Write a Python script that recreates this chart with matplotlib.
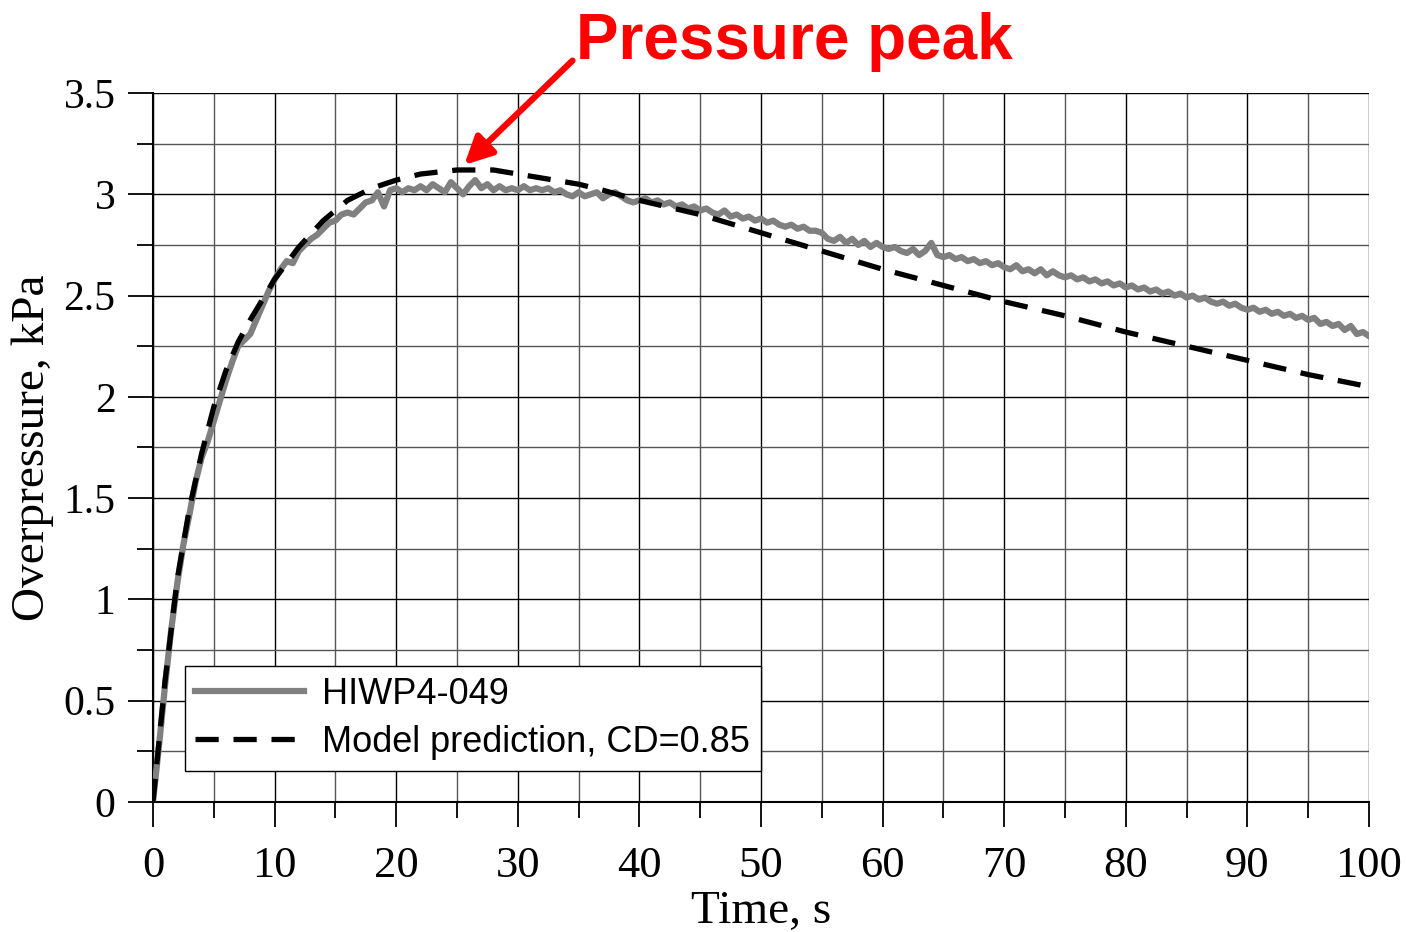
import numpy as np
import matplotlib.pyplot as plt
from matplotlib.ticker import MultipleLocator

# model prediction, CD=0.85
t_model = [0, 0.5, 1, 2, 3, 4, 5, 6, 7, 8, 9, 10, 12, 14, 16, 18, 20, 22, 25, 28,
           30, 33, 35, 37, 40, 45, 50, 55, 60, 65, 70, 75, 80, 85, 90, 95, 100]
p_model = [0, 0.30, 0.60, 1.10, 1.45, 1.72, 1.95, 2.13, 2.27, 2.38, 2.48, 2.58, 2.74,
           2.87, 2.97, 3.03, 3.07, 3.10, 3.12, 3.12, 3.10, 3.07, 3.05, 3.02, 2.97,
           2.90, 2.81, 2.72, 2.63, 2.55, 2.47, 2.40, 2.32, 2.25, 2.18, 2.11, 2.05]

# measured HIWP4-049, every 0.5 s
p_meas = [
    0, 0.28, 0.58, 0.85, 1.08, 1.27, 1.42, 1.58, 1.70, 1.78,
    1.88, 1.98, 2.08, 2.17, 2.25, 2.28, 2.31, 2.38, 2.45, 2.52,
    2.58, 2.63, 2.67, 2.66, 2.72, 2.75, 2.78, 2.80, 2.83, 2.86,
    2.87, 2.90, 2.91, 2.90, 2.93, 2.96, 2.97, 3.01, 2.94, 3.02,
    3.03, 3.01, 3.03, 3.02, 3.04, 3.02, 3.05, 3.03, 3.01, 3.06,
    3.03, 3.00, 3.04, 3.07, 3.03, 3.05, 3.02, 3.04, 3.02, 3.03,
    3.02, 3.04, 3.02, 3.03, 3.02, 3.03, 3.01, 3.02, 3.00, 2.99,
    3.01, 2.99, 3.00, 3.01, 2.98, 3.00, 3.01, 2.99, 2.97, 2.96,
    2.97, 2.98, 2.96, 2.97, 2.95, 2.96, 2.94, 2.95, 2.93, 2.94,
    2.92, 2.93, 2.91, 2.90, 2.92, 2.89, 2.90, 2.88, 2.89, 2.87,
    2.88, 2.86, 2.87, 2.85, 2.84, 2.85, 2.83, 2.84, 2.82, 2.82,
    2.81, 2.78, 2.77, 2.79, 2.76, 2.78, 2.75, 2.77, 2.74, 2.76,
    2.74, 2.73, 2.74, 2.72, 2.71, 2.73, 2.70, 2.72, 2.76, 2.70,
    2.69, 2.70, 2.68, 2.69, 2.67, 2.68, 2.66, 2.67, 2.65, 2.66,
    2.64, 2.63, 2.65, 2.62, 2.63, 2.61, 2.63, 2.60, 2.62, 2.60,
    2.59, 2.60, 2.58, 2.59, 2.57, 2.58, 2.56, 2.57, 2.55, 2.56,
    2.54, 2.55, 2.53, 2.54, 2.52, 2.53, 2.51, 2.52, 2.50, 2.51,
    2.49, 2.50, 2.48, 2.49, 2.47, 2.46, 2.47, 2.45, 2.46, 2.44,
    2.43, 2.44, 2.42, 2.43, 2.41, 2.42, 2.40, 2.41, 2.39, 2.40,
    2.38, 2.39, 2.36, 2.37, 2.35, 2.36, 2.33, 2.35, 2.31, 2.32,
    2.30,
]
t_meas = np.linspace(0, 100, len(p_meas))

serif = 'Liberation Serif'
sans = 'Liberation Sans'

fig = plt.figure(figsize=(14.06, 9.32), dpi=100)
ax = fig.add_axes([0.1088, 0.1395, 0.8649, 0.7607])

ax.plot(t_meas, p_meas, color='#808080', lw=4.5, label='HIWP4-049', zorder=3)
ax.plot(t_model, p_model, color='black', lw=3.8, dashes=(4.4, 2.8),
        label='Model prediction, CD=0.85', zorder=4)

ax.set_xlim(0, 100)
ax.set_ylim(0, 3.5)
ax.xaxis.set_major_locator(MultipleLocator(10))
ax.xaxis.set_minor_locator(MultipleLocator(5))
ax.yaxis.set_major_locator(MultipleLocator(0.5))
ax.yaxis.set_minor_locator(MultipleLocator(0.25))
ax.yaxis.set_major_formatter(plt.FuncFormatter(lambda v, p: f'{v:g}'))

ax.grid(which='major', color='black', lw=1.0)
ax.grid(which='minor', color='#555555', lw=1.0)
ax.set_axisbelow(True)

ax.tick_params(which='major', direction='out', length=18, width=1.3,
               labelsize=32)
ax.tick_params(axis='x', which='major', pad=14)
ax.tick_params(axis='y', which='major', pad=9, labelsize=30)
ax.tick_params(which='minor', direction='out', length=11.5, width=1.3)
for lab in ax.get_xticklabels() + ax.get_yticklabels():
    lab.set_fontfamily(serif)
for sp in ['top', 'right']:
    ax.spines[sp].set_visible(False)
for sp in ['left', 'bottom']:
    ax.spines[sp].set_linewidth(1.5)

ax.set_xlabel('Time, s', fontfamily=serif, fontsize=34, labelpad=3)
ax.set_ylabel('Overpressure, kPa', fontfamily=serif, fontsize=34, labelpad=7)

leg = ax.legend(loc='lower left', bbox_to_anchor=(0.026, 0.044), fancybox=False,
                framealpha=1, edgecolor='black', handlelength=3.0,
                prop={'family': sans, 'size': 26}, borderpad=0.3,
                labelspacing=0.36, handletextpad=0.5, borderaxespad=0)
leg.get_frame().set_linewidth(1.0)

ax.annotate('', xy=(25.6, 3.145), xytext=(34.5, 3.66),
            arrowprops=dict(arrowstyle='-|>', color='red', lw=4.5,
                            mutation_scale=42, shrinkA=0, shrinkB=0),
            annotation_clip=False)
fig.text(0.41, 0.937, 'Pressure peak', color='red', fontsize=46,
         fontweight='bold', fontfamily=sans, ha='left', va='baseline')

fig.savefig('out.png', dpi=100)
